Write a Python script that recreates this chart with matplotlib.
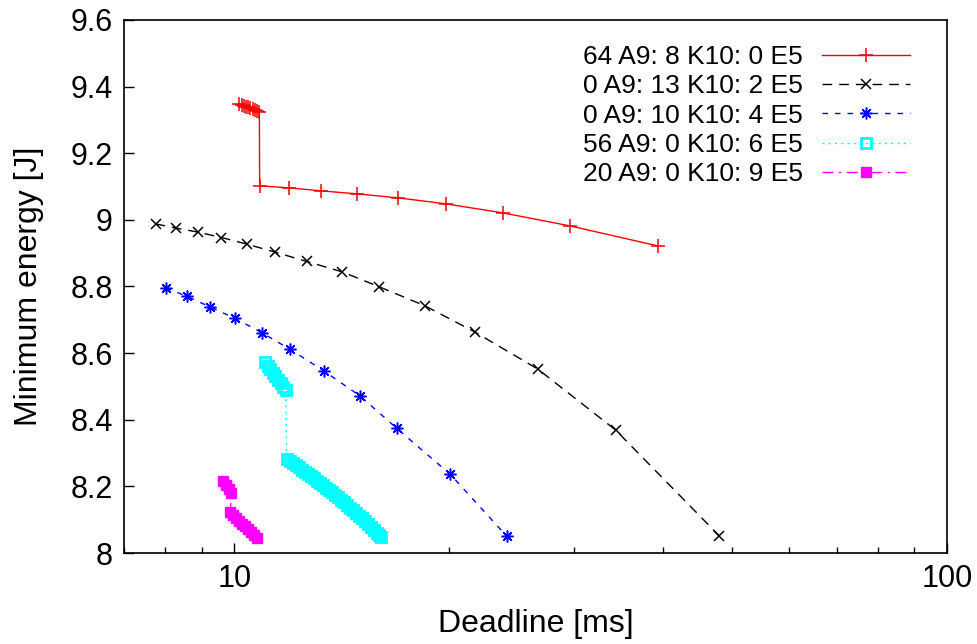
import matplotlib
matplotlib.use('Agg')
import matplotlib.pyplot as plt
from matplotlib.ticker import LogLocator, FixedLocator, NullFormatter

plt.rcParams['font.family'] = ['Liberation Sans', 'DejaVu Sans']

# series labels (number of A9 / K10 / E5 cores)
labels = [
    '64 A9: 8 K10: 0 E5',
    '0 A9: 13 K10: 2 E5',
    '0 A9: 10 K10: 4 E5',
    '56 A9: 0 K10: 6 E5',
    '20 A9: 0 K10: 9 E5',
]

# deadline [ms] / minimum energy [J]
red_x = [10.16, 10.24, 10.31, 10.38, 10.46, 10.53, 10.61, 10.69, 10.76, 10.84,
         10.85, 11.94, 13.24, 14.87, 16.97, 19.81, 23.81, 29.55, 39.25]
red_y = [9.348, 9.345, 9.343, 9.340, 9.338, 9.335, 9.333, 9.330, 9.328, 9.325,
         9.102, 9.096, 9.087, 9.078, 9.066, 9.048, 9.021, 8.982, 8.922]

black_x = [7.75, 8.29, 8.90, 9.59, 10.42, 11.41, 12.64, 14.16, 15.97, 18.51,
           21.76, 26.66, 34.28, 47.94]
black_y = [8.988, 8.975, 8.963, 8.947, 8.927, 8.903, 8.875, 8.844, 8.799, 8.742,
           8.663, 8.552, 8.369, 8.051]

blue_x = [8.01, 8.59, 9.23, 10.01, 10.93, 11.98, 13.34, 15.02, 16.90, 20.07, 24.12]
blue_y = [8.796, 8.770, 8.739, 8.705, 8.661, 8.611, 8.547, 8.471, 8.374, 8.237, 8.050]

cyan_x = [11.03, 11.13, 11.22, 11.32, 11.41, 11.51, 11.61, 11.71, 11.81,
          11.84, 11.96, 12.07, 12.19, 12.31, 12.43, 12.55, 12.67, 12.80, 12.92,
          13.05, 13.17, 13.30, 13.43, 13.56, 13.69, 13.83, 13.96, 14.10, 14.23,
          14.37, 14.51, 14.65, 14.79, 14.94, 15.08, 15.23, 15.38, 15.53, 15.68,
          15.83, 15.98, 16.06]
cyan_y = [8.572, 8.562, 8.551, 8.541, 8.530, 8.520, 8.509, 8.499, 8.488,
          8.281, 8.275, 8.269, 8.263, 8.257, 8.250, 8.244, 8.237, 8.231, 8.224,
          8.217, 8.210, 8.203, 8.196, 8.189, 8.182, 8.175, 8.167, 8.160, 8.152,
          8.144, 8.136, 8.128, 8.120, 8.112, 8.104, 8.096, 8.087, 8.079, 8.070,
          8.061, 8.053, 8.048]

magenta_x = [9.65, 9.74, 9.82, 9.90,
             9.87, 9.97, 10.06, 10.16, 10.26, 10.36, 10.46, 10.56, 10.67, 10.77]
magenta_y = [8.216, 8.204, 8.192, 8.180,
             8.123, 8.114, 8.106, 8.097, 8.088, 8.080, 8.071, 8.062, 8.054, 8.045]

fig = plt.figure(figsize=(9.78, 6.44), dpi=100)
ax = fig.add_axes([0.1268, 0.1413, 0.8415, 0.8277])

ax.plot(red_x, red_y, color='#ff0000', lw=1, ls='-', marker='+', ms=9.5, mew=1.1,
        label=labels[0])
ax.plot(black_x, black_y, color='black', lw=1, ls=(0, (7, 5)), marker='x', ms=7.5,
        mew=1.1, label=labels[1])
ax.plot(blue_x, blue_y, color='#0000ff', lw=1, ls=(0, (4, 5)), marker=(8, 2, 0),
        ms=8.5, mew=1.1, label=labels[2])
ax.plot(cyan_x, cyan_y, color='#00ffff', lw=1, ls=(0, (1.5, 3)), marker='s', ms=6.5,
        mew=2.0, mfc='none', label=labels[3])
ax.plot(magenta_x, magenta_y, color='#ff00ff', lw=1, ls=(0, (8, 4, 1.5, 4)),
        marker='s', ms=6.5, mew=1, label=labels[4])

ax.set_xscale('log')
ax.set_xlim(7, 100)
ax.set_ylim(8, 9.6)
ax.xaxis.set_major_locator(FixedLocator([10, 100]))
ax.xaxis.set_minor_locator(LogLocator(base=10, subs=range(2, 10)))
ax.xaxis.set_minor_formatter(NullFormatter())
ax.set_xticklabels(['10', '100'])
ax.set_yticks([8, 8.2, 8.4, 8.6, 8.8, 9, 9.2, 9.4, 9.6])
ax.set_yticklabels(['8', '8.2', '8.4', '8.6', '8.8', '9', '9.2', '9.4', '9.6'])

ax.tick_params(which='both', direction='in', top=False, right=False,
               labelsize=22, width=1)
ax.tick_params(which='major', length=7, pad=8)
ax.tick_params(which='minor', length=4)
for s in ax.spines.values():
    s.set_linewidth(1.2)

ax.set_xlabel('Deadline [ms]', fontsize=23, labelpad=11)
ax.set_ylabel('Minimum energy [J]', fontsize=23, labelpad=19)

leg = ax.legend(loc='upper right', bbox_to_anchor=(910 / 978, 1 - 45 / 644),
                bbox_transform=fig.transFigure, frameon=False, fontsize=19,
                markerfirst=False, numpoints=1, handlelength=3.35,
                handletextpad=0.7, labelspacing=0.2, borderpad=0,
                borderaxespad=0)

fig.savefig('out.png', dpi=100)
